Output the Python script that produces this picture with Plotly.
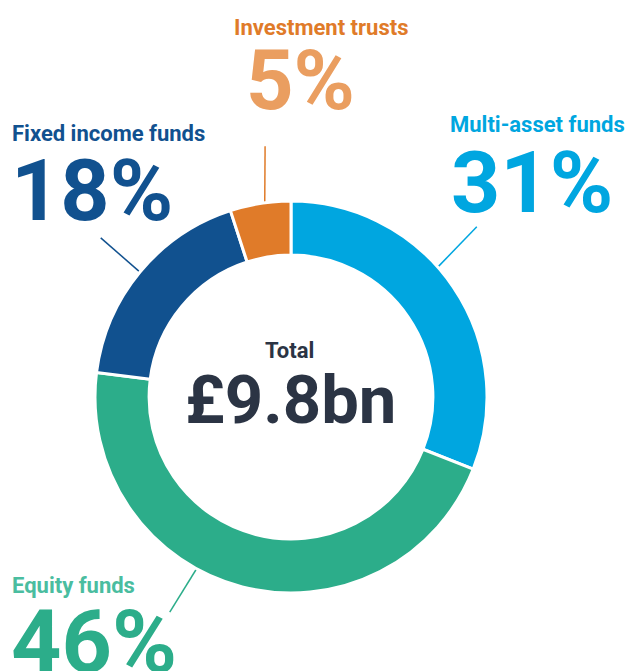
import math
import plotly.graph_objects as go

# Fund mix by asset type (share of total, %)
categories = ["Multi-asset funds", "Equity funds", "Fixed income funds", "Investment trusts"]
shares = [31, 46, 18, 5]
total_label = "£9.8bn"

slice_colors = ["#00A6E0", "#2CAD8A", "#11518F", "#E07B29"]
name_colors = ["#00A6E0", "#4ABDA0", "#11518F", "#E07B29"]
value_colors = ["#00A6E0", "#2CAD8A", "#11518F", "#EA9E60"]

W, H = 629, 671
CX, CY, R = 291, 397, 196          # donut centre and outer radius (px)
HOLE = 0.724

# label placement: (name x, name cap-centre y, value x, value centre y, xanchor, value font size)
label_pos = [
    (448, 125, 449, 182, "left", 86),
    (10, 585, 9, 641, "left", 88),
    (10, 133.5, 9, 190, "left", 86),
    (321, 27.5, 300, 80, "center", 83),
]
# leader lines: (angle at ring, angle at outer end) in deg clockwise from 12 o'clock, outer radius
leader = [
    (48.5, 47.5, 252),
    (208.8, 209.4, 247),
    (309.6, 309.9, 248),
    (352.3, 354.1, 252),
]

def px(x):
    return x / W

def py(y):
    return 1 - y / H

def polar(angle_deg, r):
    a = math.radians(angle_deg)
    return CX + r * math.sin(a), CY - r * math.cos(a)

fig = go.Figure(go.Pie(
    labels=categories,
    values=shares,
    sort=False,
    direction="clockwise",
    rotation=0,
    hole=HOLE,
    marker=dict(colors=slice_colors, line=dict(color="white", width=3)),
    textinfo="none",
    hoverinfo="label+percent",
    showlegend=False,
    domain=dict(x=[px(CX - R), px(CX + R)], y=[py(CY + R), py(CY - R)]),
))

annotations = []
shapes = []
for i, name in enumerate(categories):
    nx, ny, vx, vy, xanchor, vsize = label_pos[i]
    annotations.append(dict(
        x=px(nx), y=py(ny), xref="paper", yref="paper",
        text=f"<b>{name}</b>", showarrow=False,
        xanchor=xanchor, yanchor="middle",
        font=dict(family="Roboto", size=22, color=name_colors[i]),
    ))
    annotations.append(dict(
        x=px(vx), y=py(vy), xref="paper", yref="paper",
        text=f"<b>{shares[i]}%</b>", showarrow=False,
        xanchor=xanchor, yanchor="middle",
        font=dict(family="Roboto", size=vsize, color=value_colors[i]),
    ))
    a0, a1, r_out = leader[i]
    x0, y0 = polar(a0, R)
    x1, y1 = polar(a1, r_out)
    shapes.append(dict(
        type="line", xref="paper", yref="paper",
        x0=px(x0), y0=py(y0), x1=px(x1), y1=py(y1),
        line=dict(color=slice_colors[i], width=1.5), layer="below",
    ))

annotations.append(dict(
    x=px(CX - 2), y=py(351), xref="paper", yref="paper",
    text="<b>Total</b>", showarrow=False, xanchor="center", yanchor="middle",
    font=dict(family="Roboto", size=22, color="#2B3444"),
))
annotations.append(dict(
    x=px(CX - 1), y=py(400), xref="paper", yref="paper",
    text=f"<b>{total_label}</b>", showarrow=False, xanchor="center", yanchor="middle",
    font=dict(family="Roboto", size=67, color="#2B3444"),
))

fig.update_layout(
    width=W, height=H,
    margin=dict(l=0, r=0, t=0, b=0),
    paper_bgcolor="white", plot_bgcolor="white",
    annotations=annotations, shapes=shapes,
)

fig.write_html("out.html")
